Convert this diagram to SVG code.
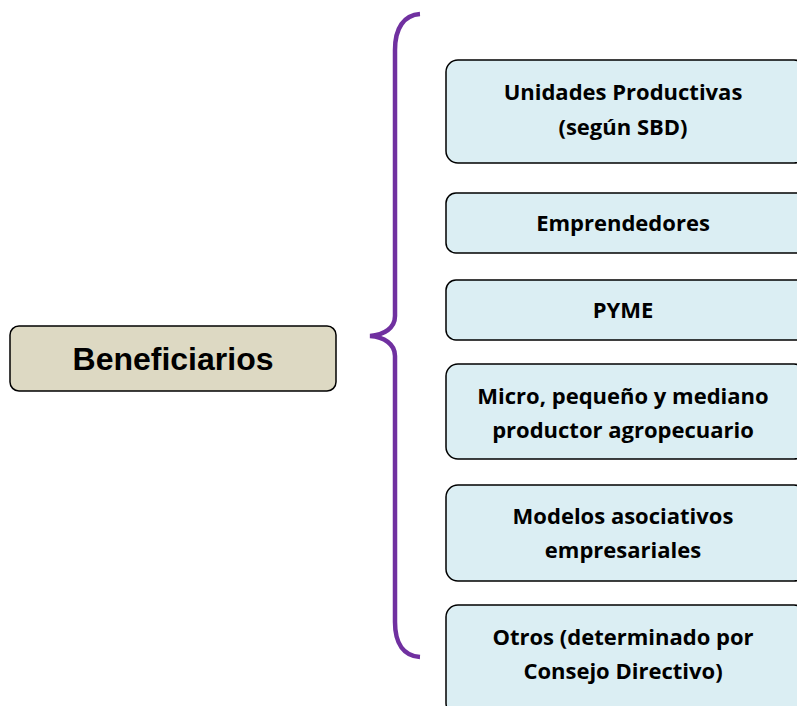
<svg xmlns="http://www.w3.org/2000/svg" width="797" height="706" viewBox="0 0 797 706">
<style>
.box{fill:#DBEEF3;stroke:#000;stroke-width:1.5}
.main{fill:#DDD9C3;stroke:#000;stroke-width:1.5}
.t{font-family:"Open Sans","Noto Sans",sans-serif;font-weight:bold;font-size:22px;fill:#000;text-anchor:middle}
.tm{font-family:"Liberation Sans",Arial,sans-serif;font-weight:bold;font-size:32px;fill:#000;text-anchor:middle}
.brace{fill:none;stroke:#7030A0;stroke-width:4.5;stroke-linecap:butt}
</style>
<rect width="797" height="706" fill="#fff"/>
<g id="connectors">
<path class="brace" d="M420,14 C404,15 395,28 395,50 L395,316 C395,328 384,335 370,336 C384,337 395,344 395,356 L395,622 C395,644 404,656 420,657"/>
</g>
<g id="beneficiarios">
<rect class="main" x="10" y="326" width="326" height="65" rx="9"/>
<text class="tm" x="173" y="370">Beneficiarios</text>
</g>
<g id="unidades">
<rect class="box" x="446" y="60" width="360" height="103" rx="12"/>
<text class="t" x="623" y="100">Unidades Productivas</text>
<text class="t" x="623" y="135">(según SBD)</text>
</g>
<g id="emprendedores">
<rect class="box" x="446" y="193" width="360" height="60" rx="10"/>
<text class="t" x="623" y="231">Emprendedores</text>
</g>
<g id="pyme">
<rect class="box" x="446" y="280" width="360" height="60" rx="10"/>
<text class="t" x="623" y="318">PYME</text>
</g>
<g id="micro">
<rect class="box" x="446" y="364" width="360" height="95" rx="12"/>
<text class="t" x="623" y="404">Micro, pequeño y mediano</text>
<text class="t" x="623" y="438">productor agropecuario</text>
</g>
<g id="modelos">
<rect class="box" x="446" y="485" width="360" height="96" rx="12"/>
<text class="t" x="623" y="524">Modelos asociativos</text>
<text class="t" x="623" y="558">empresariales</text>
</g>
<g id="otros">
<rect class="box" x="446" y="605" width="360" height="110" rx="12"/>
<text class="t" x="623" y="645">Otros (determinado por</text>
<text class="t" x="623" y="679">Consejo Directivo)</text>
</g>
</svg>
